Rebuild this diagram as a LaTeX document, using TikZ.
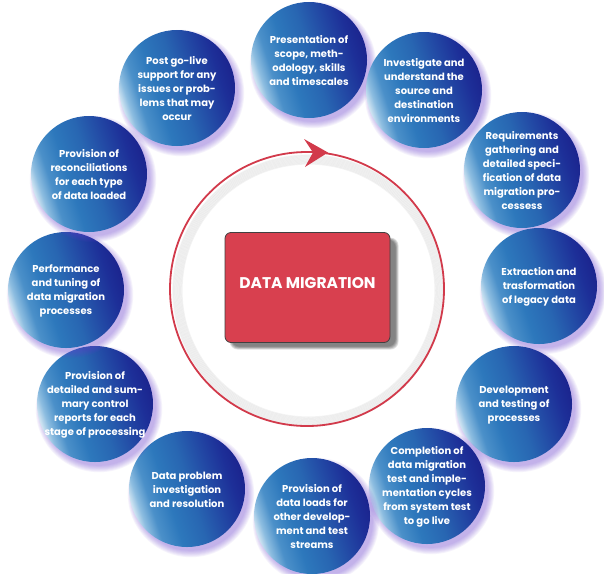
\documentclass[tikz,border=0pt]{standalone}
\usepackage{fontspec}
\setmainfont{Poppins}
\usetikzlibrary{arrows.meta}
\definecolor{glow}{HTML}{6A3FD0}
\definecolor{ringred}{HTML}{D23A4B}
\definecolor{boxred}{HTML}{D8404F}
\definecolor{sA}{HTML}{D2E5F2}
\definecolor{sB}{HTML}{8DBDE0}
\definecolor{sC}{HTML}{4B90C9}
\definecolor{sD}{HTML}{2D78BC}
\definecolor{sE}{HTML}{2866B2}
\definecolor{sF}{HTML}{2247A4}
\definecolor{sG}{HTML}{1D2F98}
\definecolor{sH}{HTML}{1B248E}
\pgfdeclarehorizontalshading{ballshade}{100bp}{color(0bp)=(sA); color(25bp)=(sA); color(28bp)=(sB); color(33bp)=(sC); color(41bp)=(sD); color(51bp)=(sE); color(61bp)=(sF); color(69bp)=(sG); color(75bp)=(sH); color(100bp)=(sH)}
\tikzset{
  ball/.style={circle, minimum size=116pt, inner sep=0pt, shading=ballshade, shading angle=18, draw=none},
  balltext/.style={text=white, align=center, inner sep=0pt, font=\bfseries\fontsize{10}{14}\selectfont},
  boxstyle/.style={draw=black!75, line width=0.8pt, fill=boxred, rounded corners=6pt, minimum width=165pt, minimum height=110pt, inner sep=0pt},
}
\begin{document}
\begin{tikzpicture}[x=1pt,y=-1pt]
\useasboundingbox (0,0) rectangle (604,573);
\fill[white] (0,0) rectangle (604,573);
% ring shadow
\foreach \k in {1,...,9} {
  \draw[black, opacity=0.05, line width=1.3pt] (308.5,290.5) circle (136.5-\k*1.1);
}
\node[circle, draw=ringred, line width=1.8pt, minimum size=274pt, inner sep=0pt] (ring) at (307,289) {};
\fill[ringred] (328,152.5) -- (304,139) -- (313,152.5) -- (305,167) -- cycle;
% central box
\foreach \k in {1,...,6} {
  \fill[black, opacity=0.1, rounded corners=8pt] (226+6-\k*0.4,233+7-\k*0.4) rectangle (392+3+\k*0.6,343+3+\k*0.6);
}
\node[boxstyle] (box) at (307.5,287.5) {};
\node[text=white, font=\bfseries\fontsize{15.5}{18}\selectfont] (title) at (307.5,283) {DATA MIGRATION};
% balls
\foreach \x/\y/\t [count=\i] in {
  309/60/{Presentation of\\scope, meth-\\odology, skills\\and timescales},
  424/90/{Investigate and\\understand the\\source and\\destination\\environments},
  522/170/{Requirements\\gathering and\\detailed speci-\\fication of data\\migration pro-\\cessess},
  539/286/{Extraction and\\trasformation\\of legacy data},
  514/404/{Development\\and testing of\\processes},
  427/486/{Completion of\\data migration\\test and imple-\\mentation cycles\\from system test\\to go live},
  312/516/{Provision of\\data loads for\\other develop-\\ment and test\\streams},
  187/489/{Data problem\\investigation\\and resolution},
  95/404/{Provision of\\detailed and sum-\\mary control\\reports for each\\stage of processing},
  66/290/{Performance\\and tuning of\\data migration\\processes},
  89/174/{Provision of\\reconciliations\\for each type\\of data loaded},
  177/88/{Post go-live\\support for any\\issues or prob-\\lems that may\\occur}} {
  \foreach \k in {1,...,8} {
    \fill[glow, opacity=0.06] (\x+4,\y+5) circle (56+\k*0.9);
  }
  \node[ball] (c\i) at (\x,\y) {};
  \node[balltext] (t\i) at (\x,\y+1) {\t};
}
\end{tikzpicture}
\end{document}
